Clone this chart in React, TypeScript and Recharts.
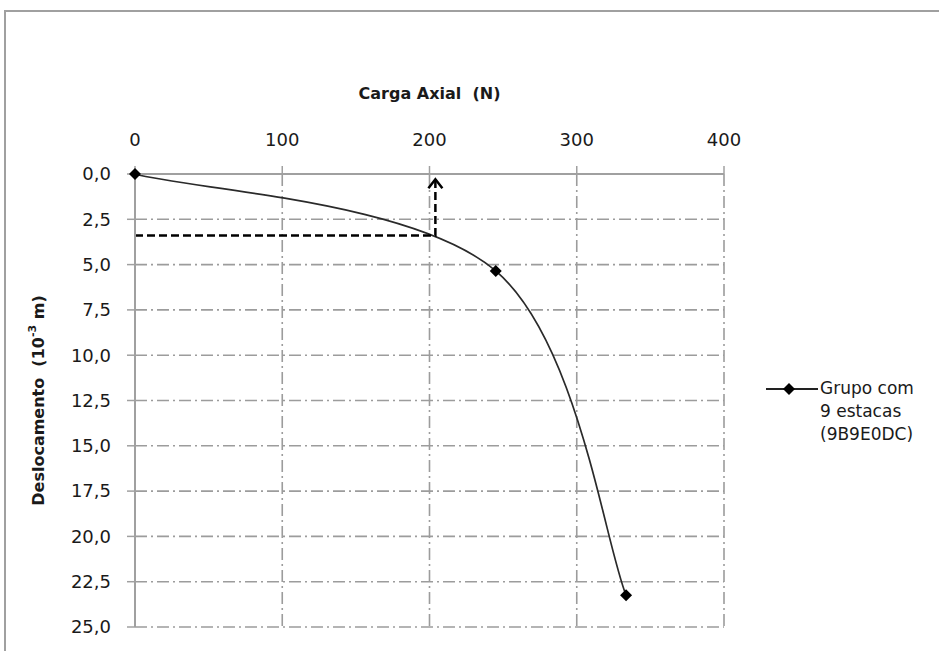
import React from "react";
import {
  ComposedChart,
  Line,
  XAxis,
  YAxis,
  CartesianGrid,
  Legend,
} from "recharts";

// Carga axial (N) x deslocamento (10^-3 m)
const cargaN = [0, 245, 333.5];
const deslocamento = [0, 5.35, 23.25];

// dashed helper arrow (load at which the curve bends)
const setaX = [0, 204, 204];
const setaY = [3.4, 3.4, 0.29];

const xTicks = [0, 100, 200, 300, 400];
const yTicks = [0, 2.5, 5, 7.5, 10, 12.5, 15, 17.5, 20, 22.5, 25];

const serieNome = ["Grupo com", "9 estacas", "(9B9E0DC)"];

const serie = cargaN.map((x, i) => ({ x, y: deslocamento[i] }));
const seta = setaX.map((x, i) => ({ x, y: setaY[i] }));

const FONT = "'DejaVu Sans', Verdana, sans-serif";
const GRID = "#9c9c9c";

// Excel-like smoothed line (Catmull-Rom bezier)
const excelSmooth = (context: any) => {
  let pts: [number, number][] = [];
  return {
    areaStart() {},
    areaEnd() {},
    lineStart() {
      pts = [];
    },
    point(x: number, y: number) {
      pts.push([x, y]);
    },
    lineEnd() {
      const n = pts.length;
      if (!n) return;
      context.moveTo(pts[0][0], pts[0][1]);
      for (let i = 0; i < n - 1; i++) {
        const p0 = pts[Math.max(i - 1, 0)];
        const p1 = pts[i];
        const p2 = pts[i + 1];
        const p3 = pts[Math.min(i + 2, n - 1)];
        context.bezierCurveTo(
          p1[0] + (p2[0] - p0[0]) / 6,
          p1[1] + (p2[1] - p0[1]) / 6,
          p2[0] - (p3[0] - p1[0]) / 6,
          p2[1] - (p3[1] - p1[1]) / 6,
          p2[0],
          p2[1]
        );
      }
    },
  };
};

const Diamond = (props: any) => {
  const { cx, cy } = props;
  if (cx == null || cy == null) return <g />;
  const r = 6;
  return (
    <path
      d={`M${cx},${cy - r}L${cx + r},${cy}L${cx},${cy + r}L${cx - r},${cy}Z`}
      fill="#000"
    />
  );
};

const ArrowHead = (props: any) => {
  const { cx, cy, index } = props;
  if (index !== setaX.length - 1 || cx == null) return <g key={index} />;
  return (
    <path
      key={index}
      d={`M${cx - 7},${cy + 9}L${cx},${cy}L${cx + 7},${cy + 9}`}
      fill="none"
      stroke="#000"
      strokeWidth={2.5}
    />
  );
};

const XTitle = (props: any) => {
  const vb = props.viewBox || {};
  return (
    <text
      x={vb.x + vb.width / 2}
      y={99}
      textAnchor="middle"
      fontFamily={FONT}
      fontWeight="bold"
      fontSize={16}
      fill="#1a1a1a"
      style={{ whiteSpace: "pre" }}
    >
      {"Carga Axial  (N)"}
    </text>
  );
};

const YTitle = (props: any) => {
  const vb = props.viewBox || {};
  const cy = vb.y + vb.height / 2;
  const cx = 38;
  return (
    <text
      x={cx}
      y={cy}
      transform={`rotate(-90, ${cx}, ${cy})`}
      textAnchor="middle"
      dominantBaseline="central"
      fontFamily={FONT}
      fontWeight="bold"
      fontSize={16}
      fill="#1a1a1a"
      style={{ whiteSpace: "pre" }}
    >
      {"Deslocamento  (10"}
      <tspan dy={-6} fontSize={11}>
        -3
      </tspan>
      <tspan dy={6}>{" m)"}</tspan>
    </text>
  );
};

const LegendBox = () => (
  <div style={{ display: "flex", alignItems: "flex-start", fontFamily: FONT }}>
    <svg width={52} height={20} style={{ flex: "none", marginTop: 1 }}>
      <line x1={0} y1={10} x2={52} y2={10} stroke="#222" strokeWidth={2} />
      <path d="M23,4L29,10L23,16L17,10Z" fill="#000" />
    </svg>
    <div style={{ fontSize: 17, lineHeight: "23px", color: "#1a1a1a", marginLeft: 2, marginTop: -1 }}>
      {serieNome.map((s) => (
        <div key={s}>{s}</div>
      ))}
    </div>
  </div>
);

const fmt = (v: number) => v.toFixed(1).replace(".", ",");

export default function App() {
  return (
    <div style={{ position: "absolute", left: 0, top: 0, width: 939, height: 651, background: "#fff", fontFamily: FONT }}>
      <div
        style={{
          position: "absolute",
          left: 4,
          top: 10,
          width: 935,
          height: 641,
          borderTop: "2px solid #a0a0a0",
          borderLeft: "2px solid #a0a0a0",
          boxSizing: "border-box",
        }}
      />
      <ComposedChart
        width={939}
        height={651}
        margin={{ top: 0, right: 215, bottom: 24, left: 0 }}
        style={{ position: "absolute", left: 0, top: 0 }}
      >
        <CartesianGrid
          stroke={GRID}
          strokeWidth={1.6}
          strokeDasharray="12 4 2 4"
        />
        <XAxis
          type="number"
          dataKey="x"
          orientation="top"
          domain={[0, 400]}
          ticks={xTicks}
          interval={0}
          height={174}
          tickSize={8}
          tickMargin={20}
          axisLine={{ stroke: "#a0a0a0", strokeWidth: 2 }}
          tickLine={{ stroke: "#a0a0a0", strokeWidth: 1.5 }}
          tick={{ fill: "#1a1a1a", fontSize: 18, fontFamily: FONT }}
          label={{ content: XTitle }}
        />
        <YAxis
          type="number"
          dataKey="y"
          reversed
          domain={[0, 25]}
          ticks={yTicks}
          interval={0}
          width={135}
          tickSize={8}
          tickMargin={16}
          tickFormatter={fmt}
          axisLine={{ stroke: "#a0a0a0", strokeWidth: 2 }}
          tickLine={{ stroke: "#a0a0a0", strokeWidth: 1.5 }}
          tick={{ fill: "#1a1a1a", fontSize: 18, fontFamily: FONT }}
          label={{ content: YTitle }}
        />
        <Line
          data={serie}
          dataKey="y"
          type={excelSmooth as any}
          stroke="#2a2a2a"
          strokeWidth={1.7}
          dot={<Diamond />}
          activeDot={false}
          isAnimationActive={false}
        />
        <Line
          data={seta}
          dataKey="y"
          type="linear"
          stroke="#000"
          strokeWidth={2.5}
          strokeDasharray="8 4"
          dot={ArrowHead}
          activeDot={false}
          legendType="none"
          isAnimationActive={false}
        />
        <Legend
          layout="horizontal"
          verticalAlign="middle"
          align="center"
          content={<LegendBox />}
          wrapperStyle={{ position: "absolute", left: 766, top: 378, width: 170 }}
        />
      </ComposedChart>
    </div>
  );
}
